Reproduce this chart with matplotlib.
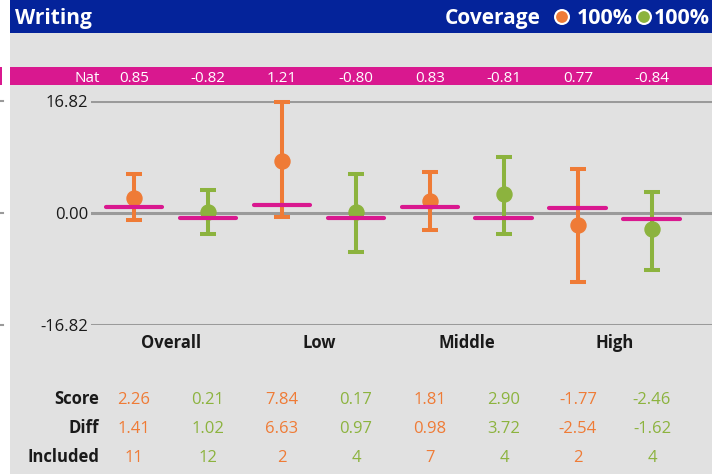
#!/usr/bin/env python3
"""
Writing: group scores with confidence bars against the national line.
"""
import matplotlib
matplotlib.use("Agg")
import matplotlib.pyplot as plt
from matplotlib.patches import Rectangle
from matplotlib.transforms import blended_transform_factory

plt.rcParams['font.family'] = ['Open Sans', 'DejaVu Sans']

# data
groups = ['Overall', 'Low', 'Middle', 'High']
score_a = [2.26, 7.84, 1.81, -1.77]
score_b = [0.21, 0.17, 2.90, -2.46]
diff_a = [1.41, 6.63, 0.98, -2.54]
diff_b = [1.02, 0.97, 3.72, -1.62]
incl_a = [11, 2, 7, 2]
incl_b = [12, 4, 4, 4]
nat_a = [0.85, 1.21, 0.83, 0.77]
nat_b = [-0.82, -0.80, -0.81, -0.84]
lo_a = [-1.1, -0.55, -2.55, -10.4]
hi_a = [5.8, 16.6, 6.1, 6.65]
lo_b = [-3.2, -5.9, -3.2, -8.55]
hi_b = [3.45, 5.8, 8.45, 3.1]
yticks = [-16.82, 0.0, 16.82]
coverage = ['100%', '100%']

ORANGE = '#ef7b36'
GREEN = '#8cb33e'
MAGENTA = '#d9188f'
BLUE = '#04239a'
PANEL = '#e1e1e1'
GRID = '#9a9a9a'
DARK = '#1a1a1a'

W, H = 712, 474
fig = plt.figure(figsize=(W / 100, H / 100), dpi=100)

# background layer in pixel coordinates
bg = fig.add_axes([0, 0, 1, 1])
bg.set_xlim(0, W)
bg.set_ylim(H, 0)
bg.axis('off')
bg.add_patch(Rectangle((10, 0), W - 10, H, color=PANEL, lw=0))
bg.add_patch(Rectangle((10, 0), W - 10, 33, color=BLUE, lw=0))
bg.add_patch(Rectangle((10, 67), W - 10, 18, color=MAGENTA, lw=0))
bg.add_patch(Rectangle((0, 67), 2, 18, color=MAGENTA, lw=0))
for yy in (101, 213, 325):
    bg.plot([0, 3], [yy, yy], color=GRID, lw=1.5)

# header
bg.text(15, 24, 'Writing', color='white', fontsize=15, fontweight='bold')
bg.text(541, 24, 'Coverage', color='white', fontsize=15,
        fontweight='bold', ha='right')
bg.scatter([562, 644], [17, 17], s=100, c=[ORANGE, GREEN],
           edgecolors='white', linewidths=1.5, zorder=3)
bg.text(577, 24, coverage[0], color='white', fontsize=15.5, fontweight='bold')
bg.text(654, 24, coverage[1], color='white', fontsize=15.5, fontweight='bold')

# plot area
ax = fig.add_axes([91 / W, (H - 325) / H, (W - 91) / W, 224 / H])
ax.set_facecolor('none')
ax.set_xlim(-0.581, 7.811)
ax.set_ylim(-16.82, 16.82)
for s in ax.spines.values():
    s.set_visible(False)
ax.set_xticks([])
ax.set_yticks(yticks)
ax.set_yticklabels(['%.2f' % v for v in yticks])
ax.tick_params(axis='y', length=0, pad=2, labelsize=12, labelcolor=DARK)
for v in yticks:
    ax.axhline(v, color=GRID, lw=2.2, zorder=1)

xa = [2 * i for i in range(len(groups))]
xb = [2 * i + 1 for i in range(len(groups))]

for xs, sc, lo, hi, col in ((xa, score_a, lo_a, hi_a, ORANGE),
                            (xb, score_b, lo_b, hi_b, GREEN)):
    err = [[s - l for s, l in zip(sc, lo)], [h - s for s, h in zip(sc, hi)]]
    ax.errorbar(xs, sc, yerr=err, fmt='o', color=col, ms=10.8,
                elinewidth=2.9, capsize=5.6, capthick=2.9,
                zorder=3, clip_on=False)

for xs, nat in ((xa, nat_a), (xb, nat_b)):
    lc = ax.hlines(nat, [x - 0.385 for x in xs], [x + 0.385 for x in xs],
                   color=MAGENTA, lw=3, zorder=4)
    lc.set_capstyle('round')

# text rows (x from data axis, y in pixels)
tr = blended_transform_factory(ax.transData, bg.transData)

bg.text(100, 81.5, 'Nat', color='white', fontsize=11, ha='right')
for xs, nat in ((xa, nat_a), (xb, nat_b)):
    for x, v in zip(xs, nat):
        ax.text(x, 81.5, '%.2f' % v, transform=tr, color='white',
                fontsize=11, ha='center')

for i, g in enumerate(groups):
    ax.text(2 * i + 0.5, 348.5, g, transform=tr, color=DARK,
            fontsize=12, fontweight='bold', ha='center')

rows = [('Score', 403.5, score_a, score_b, '%.2f'),
        ('Diff', 433, diff_a, diff_b, '%.2f'),
        ('Included', 462, incl_a, incl_b, '%d')]
for name, yy, va_, vb_, fmt in rows:
    bg.text(99, yy, name, color=DARK, fontsize=12, fontweight='bold',
            ha='right')
    for x, v in zip(xa, va_):
        ax.text(x, yy, fmt % v, transform=tr, color=ORANGE,
                fontsize=12, ha='center')
    for x, v in zip(xb, vb_):
        ax.text(x, yy, fmt % v, transform=tr, color=GREEN,
                fontsize=12, ha='center')

fig.savefig('out.png', dpi=100)
